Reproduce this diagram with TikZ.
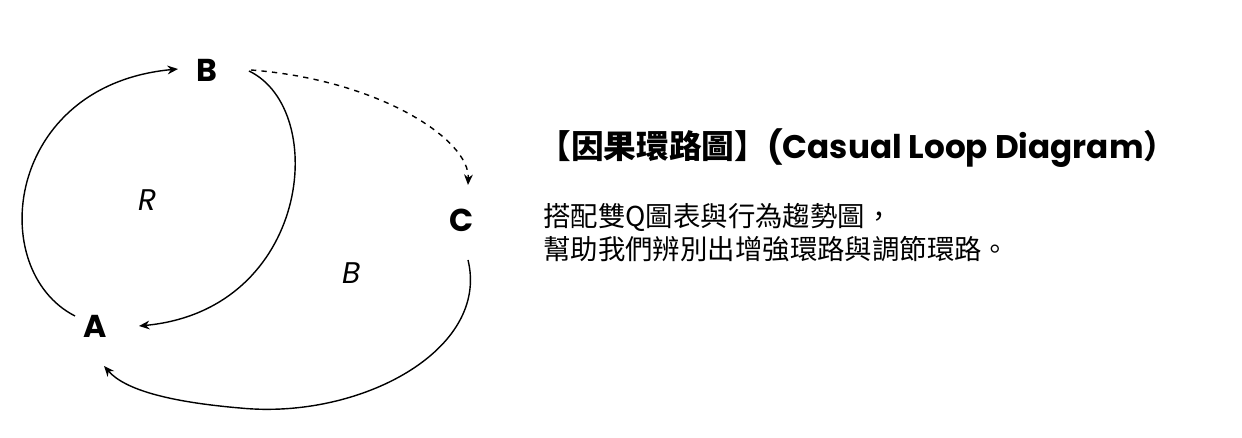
\documentclass[tikz,border=0pt]{standalone}
\usepackage{fontspec}
\setmainfont{Poppins}
\newfontfamily\cjk{Noto Sans CJK TC}
\usetikzlibrary{arrows.meta}
\begin{document}
\begin{tikzpicture}[x=0.02cm,y=-0.02cm,
  lbl/.style={font=\fontsize{18}{20}\selectfont\bfseries,inner sep=1pt},
  loopl/.style={font=\fontsize{17}{20}\selectfont\itshape},
  arr/.style={line width=0.8pt,-{Stealth[length=6pt,width=5pt]}}]
\useasboundingbox (0,0) rectangle (1242,438);
\node[lbl] (B) at (207,70) {B};
\node[lbl] (C) at (462,220) {C};
\node[lbl] (A) at (95,326) {A};
\node[loopl] (R) at (148,200) {R};
\node[loopl] (Bl) at (352,273) {B};
\coordinate (a1) at (75,316);
\coordinate (b1) at (178,69);
\coordinate (b2) at (249,71);
\coordinate (a2) at (139,326);
\coordinate (b3) at (251,70);
\coordinate (c1) at (468,185);
\coordinate (c2) at (468,260);
\coordinate (a3) at (104,366);
\draw[arr] (a1) .. controls (-15,270) and (5,85) .. (b1);
\draw[arr] (b2) .. controls (330,110) and (310,310) .. (a2);
\draw[arr,dashed] (b3) .. controls (380,80) and (470,140) .. (c1);
\draw[arr] (c2) .. controls (490,350) and (360,420) .. (240,408) .. controls (170,402) and (125,390) .. (a3);
\node[anchor=west,inner sep=0] (T) at (538,148) {\fontsize{18.6}{20}\selectfont\bfseries{\cjk 【因果環路圖】}(Casual Loop Diagram{\cjk ）}};
\node[anchor=north west,inner sep=0,align=left,font=\cjk\fontsize{15.6}{18.7}\selectfont] (D) at (543,203) {搭配雙Q圖表與行為趨勢圖，\\ 幫助我們辨別出增強環路與調節環路。};
\end{tikzpicture}
\end{document}
